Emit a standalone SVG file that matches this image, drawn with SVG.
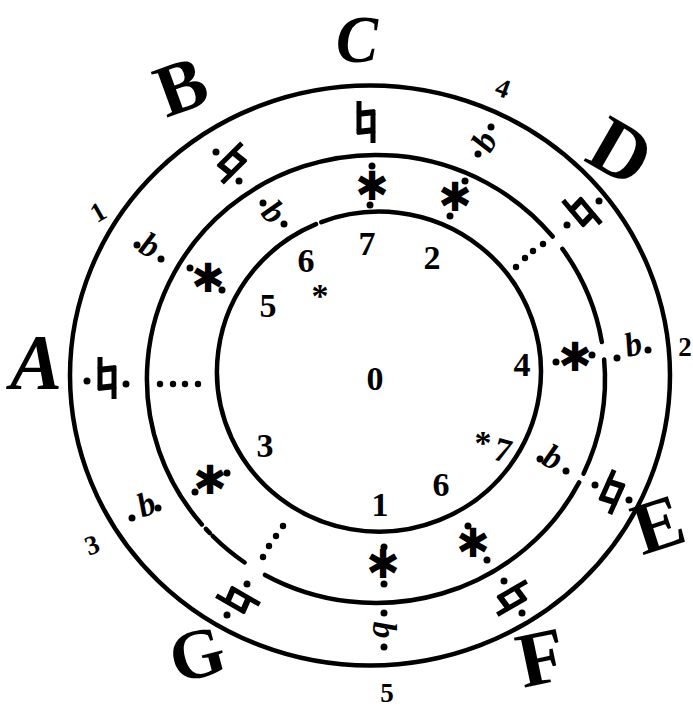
<svg xmlns="http://www.w3.org/2000/svg" width="693" height="710" viewBox="0 0 693 710">
<style>
.ring{fill:none;stroke:#000;stroke-width:4.5;stroke-linecap:round}
.dot{fill:#000}
.big{font-family:"Liberation Serif",serif;font-weight:bold;fill:#000;text-anchor:middle;dominant-baseline:central}
.num{font-family:"Liberation Serif",serif;font-weight:bold;font-size:34px;fill:#000;text-anchor:middle;dominant-baseline:central}
.onum{font-family:"Liberation Serif",serif;font-weight:bold;font-size:27px;fill:#000;text-anchor:middle;dominant-baseline:central}
.sh{font-family:"DejaVu Sans",sans-serif;font-weight:bold;font-size:40px;fill:#000;text-anchor:middle;dominant-baseline:central}
.fl{font-family:"Liberation Serif",serif;font-style:italic;font-weight:bold;font-size:34px;fill:#000;text-anchor:middle;dominant-baseline:central}
.natstem{fill:none;stroke:#000;stroke-width:5}
.natbar{fill:none;stroke:#000;stroke-width:6}
</style>
<defs>
  <g id="nat">
    <path class="natstem" d="M-7,-21 V12 M7,-12 V21"/>
    <path class="natbar" d="M-9,-8 L9,-10 M-9,10 L9,8"/>
  </g>
</defs>
<rect width="693" height="710" fill="#fff"/>
<g id="rings">
  <ellipse class="ring" cx="370" cy="375.5" rx="300" ry="290"/>
  <path class="ring" d="M604.13,359.48 A229,224 0 0 1 583.54,473.67"/>
  <path class="ring" d="M579.13,482.43 A229,224 0 0 1 264.98,574.91"/>
  <path class="ring" d="M244.65,562.49 A229,224 0 0 1 212.67,536.0"/>
  <path class="ring" d="M209.89,533.19 A229,224 0 0 1 205.82,528.89"/>
  <path class="ring" d="M201.87,524.48 A229,224 0 1 1 552.70,236.52"/>
  <path class="ring" d="M562.43,248.92 A229,224 0 0 1 601.86,342.03"/>
  <path class="ring" d="M321.3,222.1 A162,160 0 1 1 316.0,224.2"/>
</g>
<g id="dotted-lines">
  <circle class="dot" cx="160" cy="384" r="3.2"/><circle class="dot" cx="173" cy="384" r="3.2"/><circle class="dot" cx="185" cy="384" r="3.2"/><circle class="dot" cx="198" cy="384" r="3.2"/>
  <circle class="dot" cx="516" cy="267" r="3.2"/><circle class="dot" cx="525" cy="258" r="3.2"/><circle class="dot" cx="533" cy="251" r="3.2"/><circle class="dot" cx="543" cy="244" r="3.2"/>
  <circle class="dot" cx="263" cy="557" r="3.2"/><circle class="dot" cx="269" cy="546" r="3.2"/><circle class="dot" cx="276" cy="536" r="3.2"/><circle class="dot" cx="283" cy="526" r="3.2"/>
</g>
<g id="key-letters">
  <text class="big" x="357" y="39" font-size="68" font-style="italic" textLength="42" lengthAdjust="spacingAndGlyphs">C</text>
  <text class="big" x="181" y="86" font-size="74" transform="rotate(-20 181 86)">B</text>
  <text class="big" x="621" y="151" font-size="80" transform="rotate(30 621 151)">D</text>
  <text class="big" x="36" y="361" font-size="78" font-style="italic">A</text>
  <text class="big" x="658" y="524" font-size="74" transform="rotate(-18 658 524)">E</text>
  <text class="big" x="541" y="657" font-size="78" transform="rotate(-12 541 657)">F</text>
  <text class="big" x="197" y="654" font-size="70" transform="rotate(-15 197 654)">G</text>
</g>
<g id="outer-numbers">
  <text class="onum" x="503" y="88" transform="rotate(20 503 88)">4</text>
  <text class="onum" x="685" y="347">2</text>
  <text class="onum" x="387" y="693">5</text>
  <text class="onum" x="92" y="545" transform="rotate(-20 92 545)">3</text>
  <text class="onum" x="98" y="212" transform="rotate(-30 98 212)">1</text>
</g>
<g id="inner-numbers">
  <text class="num" x="367" y="243">7</text>
  <text class="num" x="432" y="257">2</text>
  <text class="num" x="306" y="260">6</text>
  <text class="num" x="268" y="305">5</text>
  <text class="num" x="320" y="295" font-size="24">*</text>
  <text class="num" x="375" y="378">0</text>
  <text class="num" x="522" y="364">4</text>
  <text class="num" x="483" y="442" font-size="24">*</text>
  <text class="num" x="503" y="450" transform="rotate(15 503 450)">7</text>
  <text class="num" x="441" y="484">6</text>
  <text class="num" x="380" y="504">1</text>
  <text class="num" x="265" y="445">3</text>
</g>
<g id="outer-ring-marks">
  <use href="#nat" transform="translate(366 122)"/>
  <use href="#nat" transform="translate(232 163) rotate(45)"/>
  <circle class="dot" cx="216" cy="152" r="3.5"/><circle class="dot" cx="239" cy="181" r="3.5"/>
  <g transform="rotate(-62 484 141)"><text class="fl" x="484" y="141">b</text></g>
  <circle class="dot" cx="478" cy="154" r="3.5"/><circle class="dot" cx="491" cy="127" r="3.5"/>
  <use href="#nat" transform="translate(582 212) rotate(-40)"/>
  <circle class="dot" cx="567" cy="225" r="3.5"/><circle class="dot" cx="599" cy="201" r="3.5"/>
  <text class="fl" x="150" y="245" transform="rotate(27 150 245)">b</text>
  <circle class="dot" cx="137" cy="245" r="3.5"/><circle class="dot" cx="161" cy="259" r="3.5"/>
  <use href="#nat" transform="translate(107 378)"/>
  <circle class="dot" cx="87" cy="381" r="3.5"/><circle class="dot" cx="126" cy="384" r="3.5"/>
  <text class="fl" x="146" y="504" transform="rotate(-21 146 504)">b</text>
  <circle class="dot" cx="132" cy="518" r="3.5"/><circle class="dot" cx="158" cy="508" r="3.5"/>
  <use href="#nat" transform="translate(238 600) rotate(-60)"/>
  <circle class="dot" cx="227" cy="615" r="3.5"/><circle class="dot" cx="247" cy="584" r="3.5"/>
  <g transform="rotate(90 384 630)"><text class="fl" x="384" y="630">b</text></g>
  <circle class="dot" cx="384" cy="613" r="3.5"/><circle class="dot" cx="384" cy="647" r="3.5"/>
  <use href="#nat" transform="translate(612 492) rotate(24)"/>
  <circle class="dot" cx="595" cy="485" r="3.5"/><circle class="dot" cx="629" cy="500" r="3.5"/>
  <use href="#nat" transform="translate(512 598) rotate(60)"/>
  <circle class="dot" cx="504" cy="581" r="3.5"/><circle class="dot" cx="522" cy="613" r="3.5"/>
  <text class="fl" x="633" y="344" transform="rotate(-14 633 344)">b</text>
  <circle class="dot" cx="617" cy="358" r="3.5"/><circle class="dot" cx="648" cy="350" r="3.5"/>
</g>
<g id="middle-ring-marks">
  <text class="sh" x="372" y="186">✱</text>
  <circle class="dot" cx="372" cy="166" r="3.5"/><circle class="dot" cx="370" cy="205" r="3.5"/>
  <text class="sh" x="455" y="197">✱</text>
  <circle class="dot" cx="465" cy="181" r="3.5"/><circle class="dot" cx="450" cy="216" r="3.5"/>
  <g transform="rotate(45 274 212)"><text class="fl" x="274" y="212">b</text></g>
  <circle class="dot" cx="263" cy="203" r="3.5"/><circle class="dot" cx="284" cy="224" r="3.5"/>
  <text class="sh" x="208" y="278">✱</text>
  <circle class="dot" cx="190" cy="268" r="3.5"/><circle class="dot" cx="222" cy="290" r="3.5"/>
  <text class="sh" x="575" y="357">✱</text>
  <circle class="dot" cx="556" cy="362" r="3.5"/><circle class="dot" cx="592" cy="355" r="3.5"/>
  <g transform="rotate(25 553 457)"><text class="fl" x="553" y="457">b</text></g>
  <circle class="dot" cx="540" cy="459" r="3.5"/><circle class="dot" cx="566" cy="471" r="3.5"/>
  <text class="sh" x="473" y="543">✱</text>
  <circle class="dot" cx="468" cy="526" r="3.5"/><circle class="dot" cx="487" cy="560" r="3.5"/>
  <text class="sh" x="383" y="564">✱</text>
  <circle class="dot" cx="384" cy="547" r="3.5"/><circle class="dot" cx="384" cy="584" r="3.5"/>
  <text class="sh" x="210" y="480">✱</text>
  <circle class="dot" cx="195" cy="492" r="3.5"/><circle class="dot" cx="227" cy="473" r="3.5"/>
</g>
</svg>
